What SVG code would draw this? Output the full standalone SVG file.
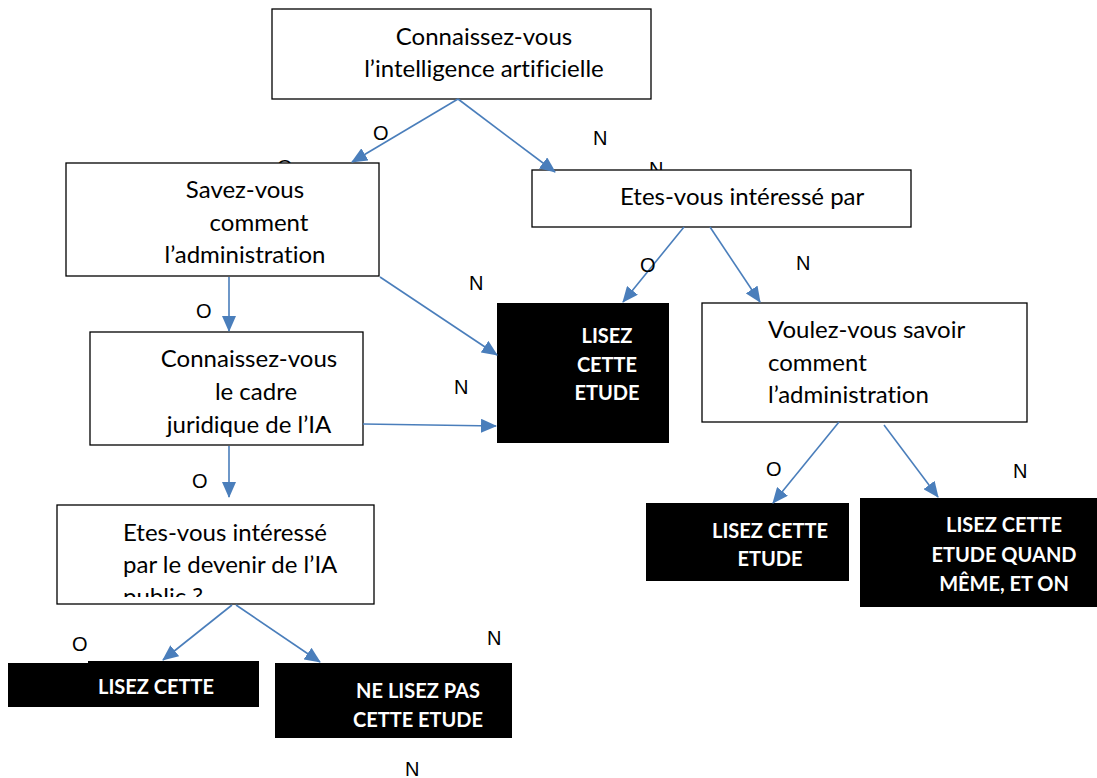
<svg xmlns="http://www.w3.org/2000/svg" width="1097" height="778" viewBox="0 0 1097 778">
<style>
.box{fill:#fff;stroke:#000;stroke-width:1.3}
.dark{fill:#000}
.t{font-family:Lato,"Liberation Sans",sans-serif;font-size:24px;fill:#000;font-variant-ligatures:none}
.b{font-family:Lato,"Liberation Sans",sans-serif;font-size:20px;font-weight:bold;fill:#fff;text-anchor:middle}
.lbl{font-family:"Liberation Sans",Arial,sans-serif;font-size:20px;fill:#000}
.c{stroke:#4a7ebb;stroke-width:1.6;fill:none;marker-end:url(#ah)}
</style>
<defs>
<marker id="ah" markerUnits="userSpaceOnUse" markerWidth="16" markerHeight="14" refX="15" refY="7" orient="auto">
<path d="M0,0 L16,7 L0,14 Z" fill="#4a7ebb"/>
</marker>
<clipPath id="clipE2"><rect x="57" y="505" width="317" height="92"/></clipPath>
<clipPath id="clipC2"><rect x="90" y="332" width="273" height="106"/></clipPath>
</defs>

<g id="labels-hidden">
<text class="lbl" x="277" y="174">O</text>
<text class="lbl" x="649" y="176">N</text>
</g>

<g id="n1">
<rect class="box" x="272" y="9" width="379" height="90"/>
<text class="t" x="484" y="45" text-anchor="middle">Connaissez-vous</text>
<text class="t" x="484" y="77" text-anchor="middle">l’intelligence artificielle</text>
</g>

<g id="n2">
<rect class="box" x="66" y="163" width="313" height="113"/>
<text class="t" x="245" y="198" text-anchor="middle">Savez-vous</text>
<text class="t" x="259" y="231" text-anchor="middle">comment</text>
<text class="t" x="245" y="263" text-anchor="middle">l’administration</text>
</g>

<g id="n3">
<rect class="box" x="532" y="170" width="379" height="57"/>
<text class="t" x="620" y="205">Etes-vous intéressé par</text>
</g>

<g id="n4">
<rect class="dark" x="497" y="303" width="172" height="140"/>
<text class="b" x="607" y="343">LISEZ</text>
<text class="b" x="607" y="372">CETTE</text>
<text class="b" x="607" y="400">ETUDE</text>
</g>

<g id="n5">
<rect class="box" x="90" y="332" width="273" height="113"/>
<g clip-path="url(#clipC2)">
<text class="t" x="249" y="367" text-anchor="middle">Connaissez-vous</text>
<text class="t" x="256" y="400" text-anchor="middle">le cadre</text>
<text class="t" x="249" y="433" text-anchor="middle">juridique de l’IA</text>
</g>
</g>

<g id="n6">
<rect class="box" x="702" y="303" width="325" height="119"/>
<text class="t" x="768" y="338">Voulez-vous savoir</text>
<text class="t" x="768" y="371">comment</text>
<text class="t" x="768" y="403">l’administration</text>
</g>

<g id="n7">
<rect class="box" x="57" y="505" width="317" height="99"/>
<g clip-path="url(#clipE2)">
<text class="t" x="123" y="541">Etes-vous intéressé</text>
<text class="t" x="123" y="573">par le devenir de l’IA</text>
<text class="t" x="123" y="605">public ?</text>
</g>
</g>

<g id="n8">
<rect class="dark" x="646" y="503" width="203" height="78"/>
<text class="b" x="770" y="538">LISEZ CETTE</text>
<text class="b" x="770" y="566">ETUDE</text>
</g>

<g id="n9">
<rect class="dark" x="860" y="498" width="237" height="109"/>
<text class="b" x="1004" y="532">LISEZ CETTE</text>
<text class="b" x="1004" y="562">ETUDE QUAND</text>
<text class="b" x="1004" y="591">MÊME, ET ON</text>
</g>

<g id="n10">
<rect class="dark" x="8" y="661" width="251" height="46"/>
<rect x="8" y="658" width="80" height="5" fill="#fff"/>
<text class="b" x="156" y="694">LISEZ CETTE</text>
</g>

<g id="n11">
<rect class="dark" x="275" y="663" width="237" height="75"/>
<text class="b" x="418" y="698">NE LISEZ PAS</text>
<text class="b" x="418" y="727">CETTE ETUDE</text>
</g>

<g id="connectors">
<line class="c" x1="458" y1="99" x2="352" y2="162"/>
<line class="c" x1="458" y1="99" x2="555" y2="172"/>
<line class="c" x1="380" y1="277" x2="497" y2="355"/>
<line class="c" x1="229" y1="277" x2="229" y2="331"/>
<line class="c" x1="363" y1="424" x2="496" y2="426"/>
<line class="c" x1="229" y1="446" x2="229" y2="497"/>
<line class="c" x1="684" y1="227" x2="623" y2="302"/>
<line class="c" x1="710" y1="227" x2="760" y2="302"/>
<line class="c" x1="839" y1="422" x2="773" y2="503"/>
<line class="c" x1="884" y1="425" x2="938" y2="497"/>
<line class="c" x1="232" y1="605" x2="163" y2="660"/>
<line class="c" x1="236" y1="605" x2="320" y2="662"/>
</g>

<g id="labels">
<text class="lbl" x="373" y="140">O</text>
<text class="lbl" x="593" y="145">N</text>
<text class="lbl" x="469" y="290">N</text>
<text class="lbl" x="196" y="318">O</text>
<text class="lbl" x="454" y="394">N</text>
<text class="lbl" x="640" y="272">O</text>
<text class="lbl" x="796" y="270">N</text>
<text class="lbl" x="192" y="488">O</text>
<text class="lbl" x="766" y="476">O</text>
<text class="lbl" x="1013" y="478">N</text>
<text class="lbl" x="72" y="651">O</text>
<text class="lbl" x="487" y="645">N</text>
<text class="lbl" x="405" y="776">N</text>
</g>
</svg>
